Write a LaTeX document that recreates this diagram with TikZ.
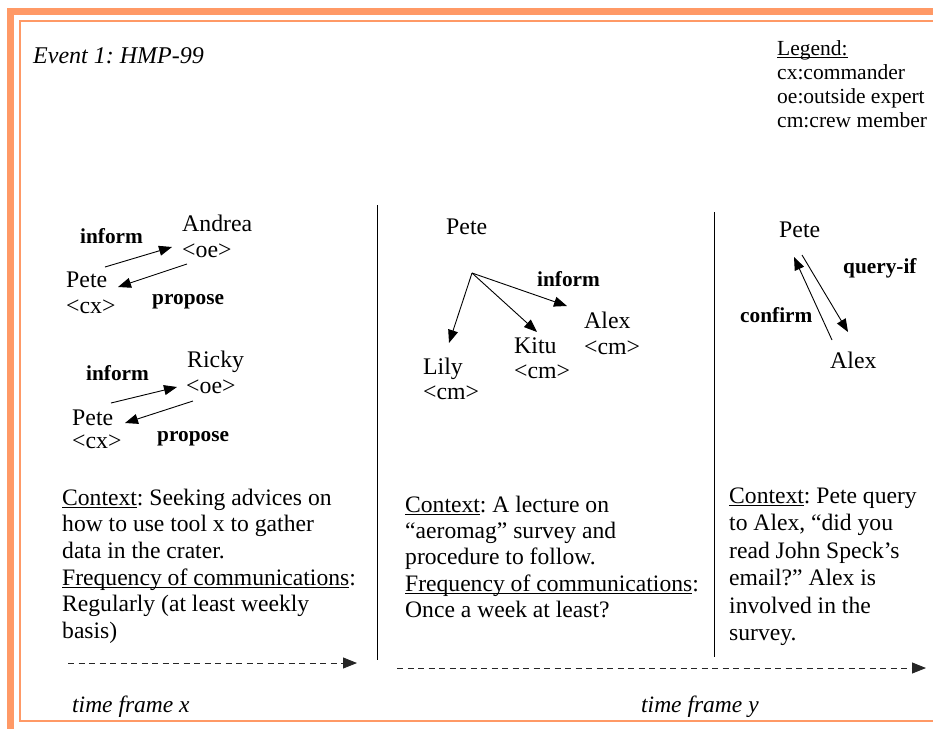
\documentclass[tikz,border=0pt]{standalone}
\usepackage{fontspec}
\setmainfont{Liberation Serif}
\usetikzlibrary{arrows.meta}
\definecolor{frameorange}{RGB}{255,153,102}
\newcommand\myul[1]{\setbox0\hbox{#1}\rlap{\rule[-3pt]{\wd0}{0.9pt}}\box0}
\frenchspacing
\begin{document}
\begin{tikzpicture}[x=1pt,y=-1pt,
  thickbar/.style={draw=frameorange,line width=7pt},
  thinbar/.style={draw=frameorange,line width=1.2pt},
  person/.style={anchor=base west,inner sep=0pt,font=\fontsize{23.8}{26}\selectfont},
  act/.style={anchor=base west,inner sep=0pt,font=\fontsize{21.3}{24}\selectfont\bfseries},
  para/.style={anchor=north west,inner sep=0pt,align=left},
  msg/.style={draw=black,line width=0.9pt,-{Triangle[length=13pt,width=10pt]}},
  timeline/.style={draw=black!85,line width=0.9pt,dash pattern=on 6pt off 4.5pt,-{Triangle[length=14pt,width=11pt]}},
  divider/.style={draw=black,line width=1pt},
  ital/.style={anchor=base west,inner sep=0pt,font=\fontsize{24}{28}\selectfont\itshape}]
\useasboundingbox (0,0) rectangle (933,729);
% frame
\coordinate (fTL) at (10.5,11.5);
\coordinate (fTR) at (933,11.5);
\coordinate (fBL) at (10.5,729);
\draw[thickbar] (fTR) -- (fTL) -- (fBL);
\coordinate (gTR) at (933,21);
\coordinate (gTL) at (20,21);
\coordinate (gBL) at (20,721);
\coordinate (gBR) at (933,721);
\draw[thinbar] (gTR) -- (gTL) -- (gBL) -- (gBR);

% title and legend
\node[ital] (title) at (33,63) {Event 1: HMP-99};
\node[para,font=\fontsize{21.5}{24}\selectfont] (legend) at (777,38.2)
  {\strut\myul{Legend:}\\cx:commander\\oe:outside expert\\cm:crew member};

% dividers
\coordinate (d1t) at (377,205);
\coordinate (d1b) at (377,660);
\coordinate (d2t) at (714,212);
\coordinate (d2b) at (714,657);
\draw[divider] (d1t) -- (d1b);
\draw[divider] (d2t) -- (d2b);

% panel 1, top pair
\node[person] (andrea) at (182,231) {Andrea};
\node[person] (andreaR) at (182,257) {<oe>};
\node[person] (peteA) at (66,287) {Pete};
\node[person] (peteAR) at (66,313) {<cx>};
\node[act] (informA) at (80,243) {inform};
\node[act] (proposeA) at (152,304) {propose};
\coordinate (a1s) at (105,267);
\coordinate (a1e) at (172,247);
\coordinate (a2s) at (187,264);
\coordinate (a2e) at (118,287);
\draw[msg] (a1s) -- (a1e);
\draw[msg] (a2s) -- (a2e);

% panel 1, bottom pair
\node[person] (ricky) at (187,367) {Ricky};
\node[person] (rickyR) at (186,393) {<oe>};
\node[person] (peteB) at (72,425) {Pete};
\node[person] (peteBR) at (72,448) {<cx>};
\node[act] (informB) at (86,380) {inform};
\node[act] (proposeB) at (157,441) {propose};
\coordinate (b1s) at (111,403);
\coordinate (b1e) at (177,387);
\coordinate (b2s) at (193,401);
\coordinate (b2e) at (125,423);
\draw[msg] (b1s) -- (b1e);
\draw[msg] (b2s) -- (b2e);

% panel 2
\node[person] (peteC) at (446,234) {Pete};
\node[act] (informC) at (537,286) {inform};
\node[person] (alexC) at (584,328) {Alex};
\node[person] (alexCR) at (584,354) {<cm>};
\node[person] (kitu) at (514,353) {Kitu};
\node[person] (kituR) at (514,378) {<cm>};
\node[person] (lily) at (423,374) {Lily};
\node[person] (lilyR) at (423,399) {<cm>};
\coordinate (c0) at (472,273);
\coordinate (cLily) at (449,343);
\coordinate (cKitu) at (537,332);
\coordinate (cAlex) at (567,306);
\draw[msg] (c0) -- (cLily);
\draw[msg] (c0) -- (cKitu);
\draw[msg] (c0) -- (cAlex);

% panel 3
\node[person] (peteD) at (779,237) {Pete};
\node[person] (alexD) at (830,368) {Alex};
\node[act] (queryif) at (843,273) {query-if};
\node[act] (confirm) at (740,322) {confirm};
\coordinate (q1) at (802,255);
\coordinate (q2) at (848,332);
\coordinate (r1) at (832,340);
\coordinate (r2) at (794,257);
\draw[msg] (q1) -- (q2);
\draw[msg] (r1) -- (r2);

% context paragraphs
\node[para,font=\fontsize{23.6}{26.6}\selectfont] (ctx1) at (62,486.4)
  {\strut\myul{Context}: Seeking advices on\\how to use tool x to gather\\data in the crater.\\\myul{Frequency of communications}:\\Regularly (at least weekly\\basis)};
\node[para,font=\fontsize{23.6}{26.3}\selectfont] (ctx2) at (405,493.6)
  {\strut\myul{Context}: A lecture on\\``aeromag'' survey and\\procedure to follow.\\\myul{Frequency of communications}:\\Once a week at least?};
\node[para,font=\fontsize{23.6}{27.5}\selectfont] (ctx3) at (729,483.7)
  {\strut\myul{Context}: Pete query\\to Alex, ``did you\\read John Speck's\\email?'' Alex is\\involved in the\\survey.};

% time lines
\coordinate (tx1) at (68,663);
\coordinate (tx2) at (357,663);
\coordinate (ty1) at (397,668);
\coordinate (ty2) at (926,668);
\draw[timeline] (tx1) -- (tx2);
\draw[timeline] (ty1) -- (ty2);
\node[ital,font=\fontsize{23.5}{28}\selectfont\itshape] (tfx) at (72,712) {time frame x};
\node[ital,font=\fontsize{23.5}{28}\selectfont\itshape] (tfy) at (641,712) {time frame y};
\end{tikzpicture}
\end{document}
